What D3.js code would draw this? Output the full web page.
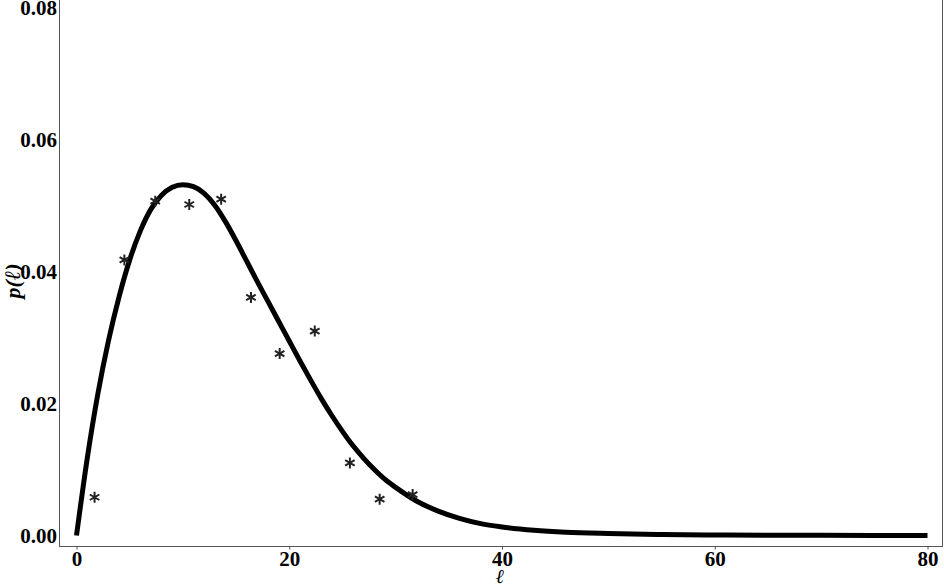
<!DOCTYPE html>
<html>
<head>
<meta charset="utf-8">
<script src="https://cdn.jsdelivr.net/npm/d3@7"></script>
<style>
  html, body { margin: 0; padding: 0; background: #fff; }
  svg { display: block; }
  text { font-family: "Liberation Serif", "Times New Roman", serif; font-weight: bold; fill: #000; }
</style>
</head>
<body>
<svg id="chart" width="944" height="586"></svg>
<script>
// ---- data ----
const xTicks = [0, 20, 40, 60, 80];
const yTicks = [0, 0.02, 0.04, 0.06, 0.08];
const yTickLabels = ["0.00", "0.02", "0.04", "0.06", "0.08"];

// fitted curve
const curveX = [0, 1, 2, 3, 4, 5, 6, 7, 8, 9, 10, 11, 12, 13, 14, 15, 16, 17, 18, 19, 20, 21, 22, 23, 24, 25, 26, 27, 28, 29, 30, 32, 34, 36, 38, 40, 43, 46, 50, 55, 60, 65, 70, 80];
const curveY = [0, 0.0116, 0.0214, 0.0295, 0.0362, 0.0418, 0.0462, 0.0495, 0.0516, 0.0528, 0.0532, 0.0529, 0.0519, 0.0501, 0.0476, 0.0447, 0.0416, 0.0385, 0.0355, 0.0325, 0.0295, 0.0265, 0.0236, 0.0208, 0.0182, 0.0158, 0.0136, 0.0117, 0.0100, 0.0085, 0.0073, 0.0052, 0.0037, 0.0026, 0.0018, 0.0013, 0.0008, 0.0005, 0.0003, 0.00015, 0.00008, 0.00004, 0.00002, 0];

// observed points (asterisks)
const pointX = [1.7, 4.5, 7.4, 10.6, 13.6, 16.4, 19.1, 22.4, 25.7, 28.5, 31.6];
const pointY = [0.0058, 0.0418, 0.0507, 0.0502, 0.0510, 0.0361, 0.0276, 0.0310, 0.0110, 0.0055, 0.0062];

// ---- layout ----
const svg = d3.select("#chart");
const frame = { left: 59, right: 942, top: -1, bottom: 546 };

const x = d3.scaleLinear().domain([0, 80]).range([76.5, 927.5]);
const y = d3.scaleLinear().domain([0, 0.08]).range([535.5, 8]);

// frame
svg.append("rect")
  .attr("x", frame.left + 0.5)
  .attr("y", frame.top + 0.5)
  .attr("width", frame.right - frame.left)
  .attr("height", frame.bottom - frame.top)
  .attr("fill", "none")
  .attr("stroke", "#555")
  .attr("stroke-width", 1);

// x axis
const xAxis = d3.axisBottom(x).tickValues(xTicks).tickSize(3).tickPadding(2).tickFormat(d3.format("d"));
const gx = svg.append("g").attr("transform", `translate(0,${frame.bottom + 0.5})`).call(xAxis);
gx.select(".domain").remove();
gx.selectAll(".tick line").attr("stroke", "#555");
gx.selectAll(".tick text").attr("font-size", 21).attr("font-family", "Liberation Serif, serif").attr("font-weight", "bold").attr("fill", "#000");

// y axis
const yAxis = d3.axisLeft(y).tickValues(yTicks).tickSize(0).tickPadding(2).tickFormat((d, i) => yTickLabels[i]);
const gy = svg.append("g").attr("transform", `translate(${frame.left},0)`).call(yAxis);
gy.select(".domain").remove();
gy.selectAll(".tick text").attr("font-size", 21).attr("font-family", "Liberation Serif, serif").attr("font-weight", "bold").attr("fill", "#000");

// curve
const line = d3.line()
  .x((d, i) => x(curveX[i]))
  .y((d, i) => y(curveY[i]))
  .curve(d3.curveMonotoneX);
svg.append("path")
  .datum(curveX)
  .attr("d", line)
  .attr("fill", "none")
  .attr("stroke", "#000")
  .attr("stroke-width", 5)
  .attr("stroke-linejoin", "round");

// asterisks
const r = 5.5;
const ast = [0, 60, 120].map(a => {
  const t = a * Math.PI / 180;
  const dx = r * Math.sin(t), dy = -r * Math.cos(t);
  return `M${-dx},${-dy}L${dx},${dy}`;
}).join("");
svg.append("g").selectAll("path")
  .data(pointX)
  .join("path")
  .attr("transform", (d, i) => `translate(${x(pointX[i])},${y(pointY[i])})`)
  .attr("d", ast)
  .attr("stroke", "#222")
  .attr("stroke-width", 2)
  .attr("fill", "none");

// axis titles
svg.append("text")
  .attr("x", 500)
  .attr("y", 583)
  .attr("text-anchor", "middle")
  .attr("font-size", 20)
  .attr("font-style", "italic")
  .text("ℓ");

svg.append("text")
  .attr("transform", "translate(20,281) rotate(-90)")
  .attr("text-anchor", "middle")
  .attr("font-size", 22)
  .attr("font-style", "italic")
  .text("p(ℓ)");
</script>
</body>
</html>
